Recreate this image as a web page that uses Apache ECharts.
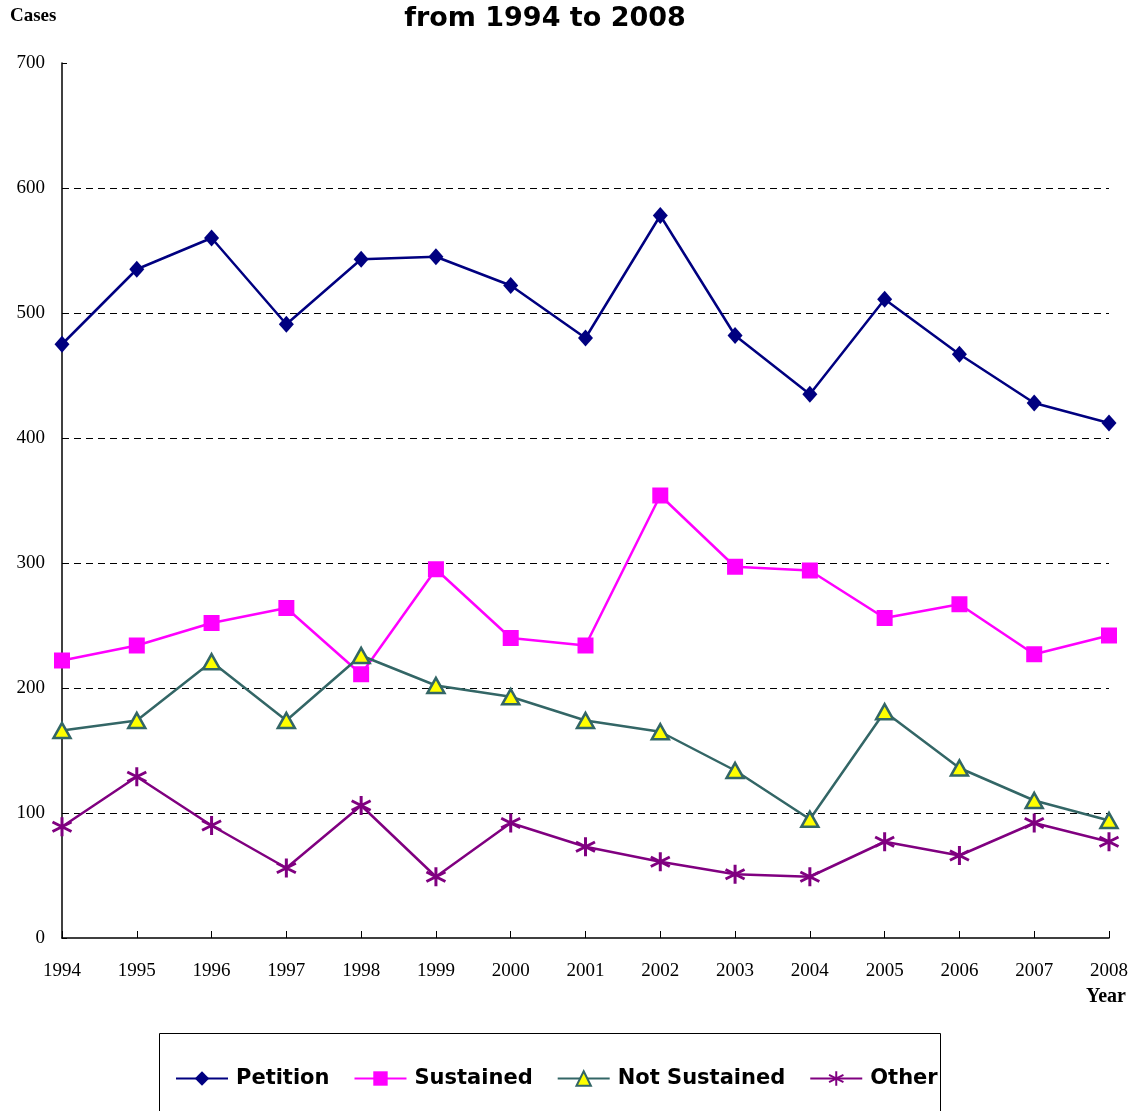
<!DOCTYPE html>
<html><head><meta charset="utf-8">
<script src="https://cdn.jsdelivr.net/npm/echarts@6/dist/echarts.min.js"></script>
<style>html,body{margin:0;padding:0;background:#fff}#c{width:1139px;height:1111px}</style>
</head><body><div id="c"></div>
<script>
const years = ['1994','1995','1996','1997','1998','1999','2000','2001','2002','2003','2004','2005','2006','2007','2008'];
const petition = [475,535,560,491,543,545,522,480,578,482,435,511,467,428,412];
const sustained = [222,234,252,264,211,295,240,234,354,297,294,256,267,227,242];
const notSustained = [166,174,221,174,226,202,193,174,165,134,95,181,136,110,94];
const other = [89,129,90,56,106,49,92,73,61,51,49,77,66,92,77];

const chart = echarts.init(document.getElementById('c'), null, {renderer:'canvas'});
const asterisk = 'path://M5,0L5,10M0.67,2.5L9.33,7.5M0.67,7.5L9.33,2.5';
const serif = '"Liberation Serif","Times New Roman",serif';
const sans = '"DejaVu Sans",Verdana,sans-serif';
chart.setOption({
  animation:false,
  backgroundColor:'#fff',
  title:{text:'from 1994 to 2008',left:540,textAlign:'center',top:0,
    textStyle:{fontFamily:sans,fontWeight:'bold',fontSize:27,color:'#000'}},
  graphic:[
    {type:'text',left:10,top:7,style:{text:'Cases',font:'bold 19px '+serif,fill:'#000'}},
    {type:'text',left:1086,top:987,style:{text:'Year',font:'bold 20px '+serif,fill:'#000'}},
    {type:'rect',shape:{x:159.5,y:1033.5,width:781,height:100},style:{fill:'none',stroke:'#000',lineWidth:1},z:-1}
  ],
  legend:{left:170,top:1063,itemWidth:52,itemHeight:18,itemGap:24,
    textStyle:{fontFamily:sans,fontWeight:'bold',fontSize:21,color:'#000',padding:[0,0,0,3]},
    data:['Petition','Sustained','Not Sustained','Other']},
  grid:{left:62,right:30,top:63,bottom:173,containLabel:false},
  xAxis:{type:'category',data:years,boundaryGap:false,
    axisLine:{lineStyle:{color:'#000',width:1.5}},
    axisTick:{inside:true,length:7,lineStyle:{color:'#000'}},
    axisLabel:{fontFamily:serif,fontSize:19,color:'#000',margin:24},
    splitLine:{show:false}},
  yAxis:{type:'value',min:0,max:700,interval:100,
    axisLine:{show:true,lineStyle:{color:'#000',width:1.5}},
    axisTick:{show:true,inside:true,length:5,lineStyle:{color:'#000'}},
    axisLabel:{fontFamily:serif,fontSize:19,color:'#000',margin:17},
    splitLine:{show:true,lineStyle:{type:[7,5],color:['transparent','#000','#000','#000','#000','#000','#000','transparent'],width:1}}},
  series:[
    {name:'Petition',type:'line',data:petition,symbol:'diamond',symbolSize:[15,17],
      lineStyle:{color:'#000080',width:2.5},itemStyle:{color:'#000080'}},
    {name:'Sustained',type:'line',data:sustained,symbol:'rect',symbolSize:16,
      lineStyle:{color:'#FF00FF',width:2.5},itemStyle:{color:'#FF00FF'}},
    {name:'Not Sustained',type:'line',data:notSustained,symbol:'triangle',symbolSize:[17,15],
      lineStyle:{color:'#336666',width:2.5},itemStyle:{color:'#FFFF00',borderColor:'#336666',borderWidth:2.5}},
    {name:'Other',type:'line',data:other,symbol:asterisk,symbolSize:19,
      lineStyle:{color:'#800080',width:2.5},itemStyle:{color:'#800080',borderColor:'#800080',borderWidth:3}}
  ]
});
</script></body></html>
